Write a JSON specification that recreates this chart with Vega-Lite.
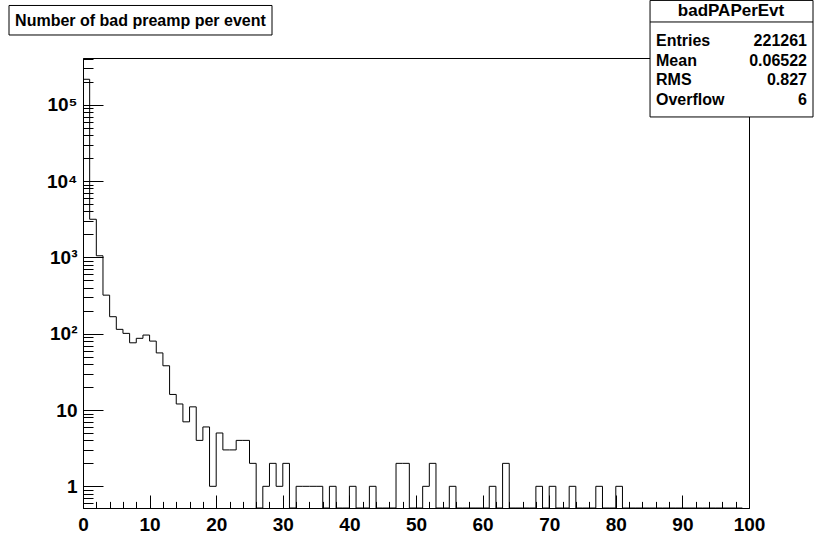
{
  "$schema": "https://vega.github.io/schema/vega-lite/v6.json",
  "width": 666,
  "height": 450,
  "autosize": {"type": "none"},
  "padding": {"left": 83, "top": 58, "right": 65, "bottom": 33},
  "background": "white",
  "config": {
    "view": {"stroke": "black", "strokeWidth": 1},
    "font": "Liberation Sans",
    "axis": {"grid": false, "title": null, "labelFont": "Liberation Sans", "labelFontWeight": "bold", "labelFontSize": 19, "labelColor": "black", "tickColor": "black", "domainColor": "black", "tickWidth": 1, "domainWidth": 1}
  },
  "datasets": {
    "hist": [
      {"bin":0,"count":215804},{"bin":1,"count":3160},{"bin":2,"count":1050},{"bin":3,"count":320},{"bin":4,"count":167},
      {"bin":5,"count":114},{"bin":6,"count":101},{"bin":7,"count":76},{"bin":8,"count":87},{"bin":9,"count":96},
      {"bin":10,"count":80},{"bin":11,"count":56},{"bin":12,"count":38},{"bin":13,"count":16},{"bin":14,"count":12},
      {"bin":15,"count":7},{"bin":16,"count":11},{"bin":17,"count":4},{"bin":18,"count":6},{"bin":19,"count":1},
      {"bin":20,"count":5},{"bin":21,"count":3},{"bin":22,"count":3},{"bin":23,"count":4},{"bin":24,"count":4},
      {"bin":25,"count":2},{"bin":26,"count":0},{"bin":27,"count":1},{"bin":28,"count":2},{"bin":29,"count":1},
      {"bin":30,"count":2},{"bin":31,"count":0},{"bin":32,"count":1},{"bin":33,"count":1},{"bin":34,"count":1},
      {"bin":35,"count":1},{"bin":36,"count":0},{"bin":37,"count":1},{"bin":38,"count":0},{"bin":39,"count":0},
      {"bin":40,"count":1},{"bin":41,"count":0},{"bin":42,"count":0},{"bin":43,"count":1},{"bin":44,"count":0},
      {"bin":45,"count":0},{"bin":46,"count":0},{"bin":47,"count":2},{"bin":48,"count":2},{"bin":49,"count":0},
      {"bin":50,"count":0},{"bin":51,"count":1},{"bin":52,"count":2},{"bin":53,"count":0},{"bin":54,"count":0},
      {"bin":55,"count":1},{"bin":56,"count":0},{"bin":57,"count":0},{"bin":58,"count":0},{"bin":59,"count":0},
      {"bin":60,"count":0},{"bin":61,"count":1},{"bin":62,"count":0},{"bin":63,"count":2},{"bin":64,"count":0},
      {"bin":65,"count":0},{"bin":66,"count":0},{"bin":67,"count":0},{"bin":68,"count":1},{"bin":69,"count":0},
      {"bin":70,"count":1},{"bin":71,"count":0},{"bin":72,"count":0},{"bin":73,"count":1},{"bin":74,"count":0},
      {"bin":75,"count":0},{"bin":76,"count":0},{"bin":77,"count":1},{"bin":78,"count":0},{"bin":79,"count":0},
      {"bin":80,"count":1},{"bin":81,"count":0},{"bin":82,"count":0},{"bin":83,"count":0},{"bin":84,"count":0},
      {"bin":85,"count":0},{"bin":86,"count":0},{"bin":87,"count":0},{"bin":88,"count":0},{"bin":89,"count":0},
      {"bin":90,"count":0},{"bin":91,"count":0},{"bin":92,"count":0},{"bin":93,"count":0},{"bin":94,"count":0},
      {"bin":95,"count":0},{"bin":96,"count":0},{"bin":97,"count":0},{"bin":98,"count":0},{"bin":99,"count":0}
    ]
  },
  "resolve": {"scale": {"x": "independent", "y": "independent"}, "axis": {"x": "independent", "y": "independent"}},
  "layer": [
    {
      "data": {"name": "hist"},
      "mark": {"type": "line", "interpolate": "step-after", "color": "black", "strokeWidth": 1, "invalid": "show", "clip": true},
      "encoding": {
        "x": {"field": "bin", "type": "quantitative", "scale": {"domain": [0, 100], "nice": false, "zero": false},
              "axis": {"orient": "bottom", "values": [0,10,20,30,40,50,60,70,80,90,100], "format": "d", "tickSize": -13, "labelPadding": 20, "labelFlush": false, "labelOverlap": false}},
        "y": {"field": "count", "type": "quantitative", "scale": {"type": "log", "domain": [0.52, 410000], "nice": false, "clamp": true},
              "axis": {"orient": "left", "values": [1,10,100,1000,10000,100000], "tickSize": -20, "labelPadding": 26, "labelFlush": false, "labelOverlap": false,
                       "labelExpr": "datum.value == 1 ? '1' : datum.value == 10 ? '10' : datum.value == 100 ? '10²' : datum.value == 1000 ? '10³' : datum.value == 10000 ? '10⁴' : '10⁵'"}}
      }
    },
    {
      "data": {"values": [{}]},
      "mark": {"type": "rect", "fill": "white", "stroke": "black", "strokeWidth": 1, "clip": false},
      "encoding": {
        "x": {"datum": 85.14, "type": "quantitative", "scale": {"domain": [0, 100], "nice": false, "zero": false},
              "axis": {"orient": "bottom", "values": [2,4,6,8,12,14,16,18,22,24,26,28,32,34,36,38,42,44,46,48,52,54,56,58,62,64,66,68,72,74,76,78,82,84,86,88,92,94,96,98], "tickSize": -6.6, "labels": false, "domain": false}},
        "x2": {"datum": 109.61},
        "y": {"datum": 2330000, "type": "quantitative", "scale": {"type": "log", "domain": [0.52, 410000], "nice": false},
              "axis": {"orient": "left", "values": [0.6,0.7,0.8,0.9,2,3,4,5,6,7,8,9,20,30,40,50,60,70,80,90,200,300,400,500,600,700,800,900,2000,3000,4000,5000,6000,7000,8000,9000,20000,30000,40000,50000,60000,70000,80000,90000,200000,300000,400000], "tickSize": -10, "labels": false, "domain": false}},
        "y2": {"datum": 69200}
      }
    },
    {
      "data": {"values": [{}]},
      "mark": {"type": "rect", "fill": "white", "stroke": "black", "strokeWidth": 1, "clip": false},
      "encoding": {
        "x": {"datum": -11.11, "type": "quantitative", "scale": {"domain": [0, 100], "nice": false, "zero": false}, "axis": null},
        "x2": {"datum": 28.38},
        "y": {"datum": 2000000, "type": "quantitative", "scale": {"type": "log", "domain": [0.52, 410000], "nice": false}, "axis": null},
        "y2": {"datum": 821000}
      }
    },
    {
      "data": {"values": [{}]},
      "mark": {"type": "rule", "color": "black", "strokeWidth": 1, "clip": false},
      "encoding": {
        "x": {"datum": 85.14, "type": "quantitative", "scale": {"domain": [0, 100], "nice": false, "zero": false}, "axis": null},
        "x2": {"datum": 109.61},
        "y": {"datum": 1216000, "type": "quantitative", "scale": {"type": "log", "domain": [0.52, 410000], "nice": false}, "axis": null}
      }
    },
    {
      "data": {"values": [{"t": "Number of bad preamp per event"}]},
      "mark": {"type": "text", "align": "center", "baseline": "middle", "font": "Liberation Sans", "fontWeight": "bold", "fontSize": 16, "color": "black", "clip": false},
      "encoding": {
        "text": {"field": "t"},
        "x": {"datum": 8.63, "type": "quantitative", "scale": {"domain": [0, 100], "nice": false, "zero": false}, "axis": null},
        "y": {"datum": 1270000, "type": "quantitative", "scale": {"type": "log", "domain": [0.52, 410000], "nice": false}, "axis": null}
      }
    },
    {
      "data": {"values": [{"t": "badPAPerEvt"}]},
      "mark": {"type": "text", "align": "center", "baseline": "middle", "font": "Liberation Sans", "fontWeight": "bold", "fontSize": 17, "color": "black", "clip": false},
      "encoding": {
        "text": {"field": "t"},
        "x": {"datum": 97.3, "type": "quantitative", "scale": {"domain": [0, 100], "nice": false, "zero": false}, "axis": null},
        "y": {"datum": 1694000, "type": "quantitative", "scale": {"type": "log", "domain": [0.52, 410000], "nice": false}, "axis": null}
      }
    },
    {
      "data": {"values": [{"t": "Entries"}]},
      "mark": {"type": "text", "align": "left", "baseline": "middle", "font": "Liberation Sans", "fontWeight": "bold", "fontSize": 16, "color": "black", "clip": false},
      "encoding": {
        "text": {"field": "t"},
        "x": {"datum": 86.04, "type": "quantitative", "scale": {"domain": [0, 100], "nice": false, "zero": false}, "axis": null},
        "y": {"datum": 695000, "type": "quantitative", "scale": {"type": "log", "domain": [0.52, 410000], "nice": false}, "axis": null}
      }
    },
    {
      "data": {"values": [{"t": "Mean"}]},
      "mark": {"type": "text", "align": "left", "baseline": "middle", "font": "Liberation Sans", "fontWeight": "bold", "fontSize": 16, "color": "black", "clip": false},
      "encoding": {
        "text": {"field": "t"},
        "x": {"datum": 86.04, "type": "quantitative", "scale": {"domain": [0, 100], "nice": false, "zero": false}, "axis": null},
        "y": {"datum": 380000, "type": "quantitative", "scale": {"type": "log", "domain": [0.52, 410000], "nice": false}, "axis": null}
      }
    },
    {
      "data": {"values": [{"t": "RMS"}]},
      "mark": {"type": "text", "align": "left", "baseline": "middle", "font": "Liberation Sans", "fontWeight": "bold", "fontSize": 16, "color": "black", "clip": false},
      "encoding": {
        "text": {"field": "t"},
        "x": {"datum": 86.04, "type": "quantitative", "scale": {"domain": [0, 100], "nice": false, "zero": false}, "axis": null},
        "y": {"datum": 208000, "type": "quantitative", "scale": {"type": "log", "domain": [0.52, 410000], "nice": false}, "axis": null}
      }
    },
    {
      "data": {"values": [{"t": "Overflow"}]},
      "mark": {"type": "text", "align": "left", "baseline": "middle", "font": "Liberation Sans", "fontWeight": "bold", "fontSize": 16, "color": "black", "clip": false},
      "encoding": {
        "text": {"field": "t"},
        "x": {"datum": 86.04, "type": "quantitative", "scale": {"domain": [0, 100], "nice": false, "zero": false}, "axis": null},
        "y": {"datum": 113800, "type": "quantitative", "scale": {"type": "log", "domain": [0.52, 410000], "nice": false}, "axis": null}
      }
    },
    {
      "data": {"values": [{"t": "221261"}]},
      "mark": {"type": "text", "align": "right", "baseline": "middle", "font": "Liberation Sans", "fontWeight": "bold", "fontSize": 16, "color": "black", "clip": false},
      "encoding": {
        "text": {"field": "t"},
        "x": {"datum": 108.71, "type": "quantitative", "scale": {"domain": [0, 100], "nice": false, "zero": false}, "axis": null},
        "y": {"datum": 695000, "type": "quantitative", "scale": {"type": "log", "domain": [0.52, 410000], "nice": false}, "axis": null}
      }
    },
    {
      "data": {"values": [{"t": "0.06522"}]},
      "mark": {"type": "text", "align": "right", "baseline": "middle", "font": "Liberation Sans", "fontWeight": "bold", "fontSize": 16, "color": "black", "clip": false},
      "encoding": {
        "text": {"field": "t"},
        "x": {"datum": 108.71, "type": "quantitative", "scale": {"domain": [0, 100], "nice": false, "zero": false}, "axis": null},
        "y": {"datum": 380000, "type": "quantitative", "scale": {"type": "log", "domain": [0.52, 410000], "nice": false}, "axis": null}
      }
    },
    {
      "data": {"values": [{"t": "0.827"}]},
      "mark": {"type": "text", "align": "right", "baseline": "middle", "font": "Liberation Sans", "fontWeight": "bold", "fontSize": 16, "color": "black", "clip": false},
      "encoding": {
        "text": {"field": "t"},
        "x": {"datum": 108.71, "type": "quantitative", "scale": {"domain": [0, 100], "nice": false, "zero": false}, "axis": null},
        "y": {"datum": 208000, "type": "quantitative", "scale": {"type": "log", "domain": [0.52, 410000], "nice": false}, "axis": null}
      }
    },
    {
      "data": {"values": [{"t": "6"}]},
      "mark": {"type": "text", "align": "right", "baseline": "middle", "font": "Liberation Sans", "fontWeight": "bold", "fontSize": 16, "color": "black", "clip": false},
      "encoding": {
        "text": {"field": "t"},
        "x": {"datum": 108.71, "type": "quantitative", "scale": {"domain": [0, 100], "nice": false, "zero": false}, "axis": null},
        "y": {"datum": 113800, "type": "quantitative", "scale": {"type": "log", "domain": [0.52, 410000], "nice": false}, "axis": null}
      }
    }
  ]
}
